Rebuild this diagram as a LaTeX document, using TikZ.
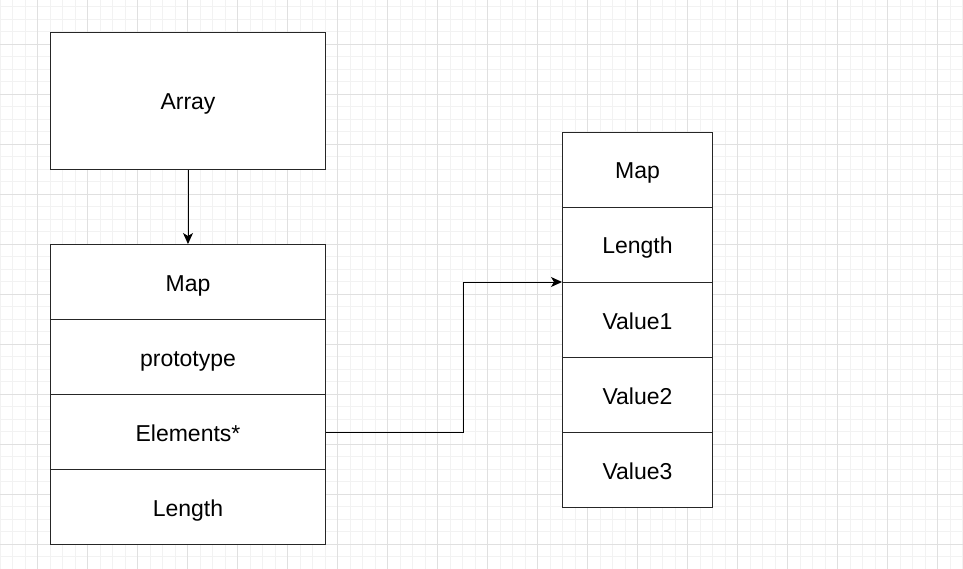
\documentclass[tikz,border=0pt]{standalone}
\usepackage{fontspec}
\setmainfont{Liberation Sans}
\usetikzlibrary{arrows.meta}

\begin{document}
\begin{tikzpicture}[x=1pt, y=-1pt,
    cell/.style={draw=black!85, line width=1pt, fill=white, inner sep=0pt,
        anchor=north west, text height=22pt, text depth=4pt,
        font=\fontsize{23}{27}\selectfont},
    link/.style={draw=black, line width=1pt,
        -{Stealth[length=11pt, width=10pt, inset=3pt]}}]
    \useasboundingbox[fill=white] (0,0) rectangle (963,569);

    % background grid
    \foreach \k in {0,...,77} \draw[black!5, line width=0.8pt] ({12.5*\k},0) -- ({12.5*\k},569);
    \foreach \k in {0,...,45} \draw[black!5, line width=0.8pt] (0,{6.5+12.5*\k}) -- (963,{6.5+12.5*\k});
    \foreach \k in {0,...,18} \draw[black!12, line width=0.8pt] ({37.5+50*\k},0) -- ({37.5+50*\k},569);
    \foreach \k in {0,...,10} \draw[black!12, line width=0.8pt] (0,{44+50*\k}) -- (963,{44+50*\k});

    \node[cell, minimum width=275pt, minimum height=137pt] (arr) at (50,32) {Array};

    \foreach \txt [count=\i] in {Map, prototype, Elements*, Length}
        \node[cell, minimum width=275pt, minimum height=75pt] (l\i) at (50,{244+75*(\i-1)}) {\txt};

    \foreach \txt [count=\i] in {Map, Length, Value1, Value2, Value3}
        \node[cell, minimum width=150pt, minimum height=75pt] (r\i) at (562,{132+75*(\i-1)}) {\txt};

    \draw[link] (arr.south) -- (l1.north);
    \draw[link] (l3.east) -- ++(137,0) |- (r3.north west);
\end{tikzpicture}
\end{document}
